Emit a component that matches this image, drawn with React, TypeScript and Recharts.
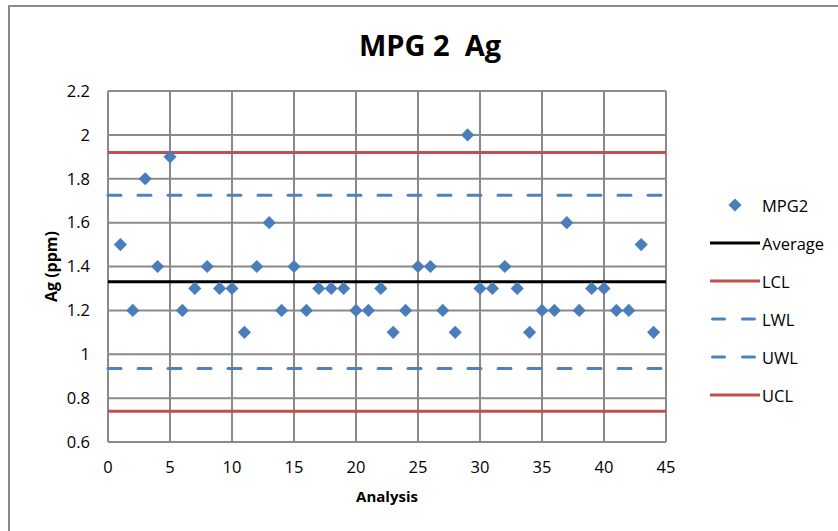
import {
  ComposedChart,
  Scatter,
  XAxis,
  YAxis,
  CartesianGrid,
  ReferenceLine,
  Label,
} from 'recharts'

// analysis number (x) and measured Ag for MPG2
const analysis = [
  1, 2, 3, 4, 5, 6, 7, 8, 9, 10, 11, 12, 13, 14, 15, 16, 17, 18, 19, 20, 21, 22,
  23, 24, 25, 26, 27, 28, 29, 30, 31, 32, 33, 34, 35, 36, 37, 38, 39, 40, 41, 42, 43, 44,
]
const mpg2 = [
  1.5, 1.2, 1.8, 1.4, 1.9, 1.2, 1.3, 1.4, 1.3, 1.3, 1.1, 1.4, 1.6, 1.2, 1.4, 1.2, 1.3, 1.3,
  1.3, 1.2, 1.2, 1.3, 1.1, 1.2, 1.4, 1.4, 1.2, 1.1, 2.0, 1.3, 1.3, 1.4, 1.3, 1.1, 1.2, 1.2,
  1.6, 1.2, 1.3, 1.3, 1.2, 1.2, 1.5, 1.1,
]

// control limits
const average = 1.33
const lcl = 0.74
const lwl = 0.935
const uwl = 1.725
const ucl = 1.92

const xTicks = [0, 5, 10, 15, 20, 25, 30, 35, 40, 45]
const yTicks = [0.6, 0.8, 1, 1.2, 1.4, 1.6, 1.8, 2, 2.2]

const BLUE = '#4A7EBB'
const RED = '#C0504D'
const DASH_BLUE = '#4F81BD'
const GRID = '#8A8A8A'
const FONT = '"Open Sans", "DejaVu Sans", sans-serif'

const scatterData = analysis.map((x, i) => ({ x, y: mpg2[i] }))

function Diamond(props: { cx?: number; cy?: number }) {
  const { cx = 0, cy = 0 } = props
  const r = 6.6
  return (
    <path
      d={`M${cx},${cy - r}L${cx + r},${cy}L${cx},${cy + r}L${cx - r},${cy}Z`}
      fill={BLUE}
    />
  )
}

type LegendItem = { name: string; kind: 'marker' | 'solid' | 'dash'; color: string }

const legendItems: LegendItem[] = [
  { name: 'MPG2', kind: 'marker', color: BLUE },
  { name: 'Average', kind: 'solid', color: '#000000' },
  { name: 'LCL', kind: 'solid', color: RED },
  { name: 'LWL', kind: 'dash', color: DASH_BLUE },
  { name: 'UWL', kind: 'dash', color: DASH_BLUE },
  { name: 'UCL', kind: 'solid', color: RED },
]

export default function App() {
  return (
    <div
      style={{
        position: 'fixed',
        left: 0,
        top: 0,
        width: 838,
        height: 531,
        overflow: 'hidden',
        background: '#fff',
        fontFamily: FONT,
      }}
    >
      {/* outer chart frame, runs off the right and bottom edges */}
      <div
        style={{
          position: 'absolute',
          left: 8,
          top: 5,
          width: 900,
          height: 600,
          border: '2px solid #8A8A8A',
        }}
      />

      <div
        style={{
          position: 'absolute',
          left: 0,
          top: 25,
          width: 860,
          textAlign: 'center',
          fontSize: 29,
          fontWeight: 700,
          whiteSpace: 'pre',
          color: '#000',
        }}
      >
        MPG 2  Ag
      </div>

      <div style={{ position: 'absolute', left: 0, top: 0 }}>
        <ComposedChart
          width={838}
          height={531}
          margin={{ top: 91, right: 172, bottom: 59, left: 0 }}
        >
          <CartesianGrid stroke={GRID} strokeWidth={2} />
          <XAxis
            dataKey="x"
            type="number"
            domain={[0, 45]}
            ticks={xTicks}
            interval={0}
            height={30}
            axisLine={false}
            tickLine={false}
            tickSize={0}
            tickMargin={19}
            tick={{ fontSize: 16.5, fill: '#000', fontFamily: FONT }}
          >
            <Label
              value="Analysis"
              position="bottom"
              offset={19}
              style={{ fontSize: 15, fontWeight: 700, fill: '#000', fontFamily: FONT }}
            />
          </XAxis>
          <YAxis
            dataKey="y"
            type="number"
            domain={[0.6, 2.2]}
            ticks={yTicks}
            interval={0}
            width={108}
            axisLine={false}
            tickLine={false}
            tickSize={0}
            tickMargin={18}
            tick={{ fontSize: 16.5, fill: '#000', fontFamily: FONT }}
          >
            <Label
              value="Ag (ppm)"
              angle={-90}
              position="center"
              dx={-3}
              style={{ fontSize: 16, fontWeight: 700, fill: '#000', fontFamily: FONT }}
            />
          </YAxis>
          <ReferenceLine y={ucl} stroke={RED} strokeWidth={3} />
          <ReferenceLine
            y={uwl}
            stroke={DASH_BLUE}
            strokeWidth={3}
            strokeDasharray="13 17"
            strokeLinecap="round"
          />
          <ReferenceLine y={average} stroke="#000" strokeWidth={3} />
          <ReferenceLine
            y={lwl}
            stroke={DASH_BLUE}
            strokeWidth={3}
            strokeDasharray="13 17"
            strokeLinecap="round"
          />
          <ReferenceLine y={lcl} stroke={RED} strokeWidth={3} />
          <Scatter
            name="MPG2"
            data={scatterData}
            shape={<Diamond />}
            isAnimationActive={false}
          />
        </ComposedChart>
      </div>

      {/* legend */}
      {legendItems.map((item, i) => (
        <div
          key={item.name}
          style={{
            position: 'absolute',
            left: 708,
            top: 205 + i * 38 - 12,
            height: 24,
            display: 'flex',
            alignItems: 'center',
          }}
        >
          <svg width={53} height={24}>
            {item.kind === 'marker' ? (
              <Diamond cx={27} cy={12} />
            ) : (
              <line
                x1={item.kind === 'dash' ? 4.5 : 2}
                x2={52}
                y1={12}
                y2={12}
                stroke={item.color}
                strokeWidth={3}
                strokeDasharray={item.kind === 'dash' ? '12 18' : undefined}
                strokeLinecap={item.kind === 'dash' ? 'round' : 'butt'}
              />
            )}
          </svg>
          <span style={{ fontSize: 16.5, color: '#000', marginLeft: 1 }}>{item.name}</span>
        </div>
      ))}
    </div>
  )
}
